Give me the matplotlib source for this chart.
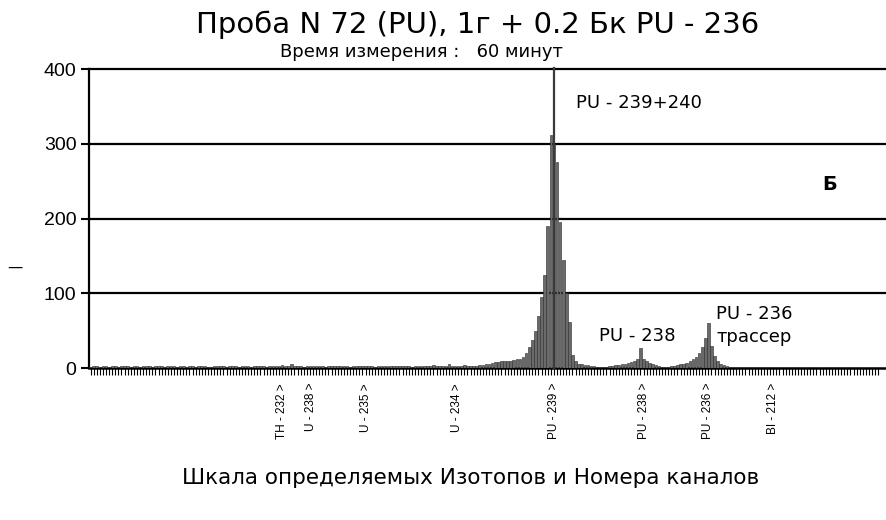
import matplotlib
matplotlib.use("Agg")
import matplotlib.pyplot as plt
import numpy as np

plt.rcParams['font.family'] = ['DejaVu Sans']

# ---- data: counts per channel (256 channels)
counts = [
    2, 3, 3, 2, 3, 3, 2, 3, 3, 2, 3, 3, 3, 2, 3, 3,
    2, 3, 3, 3, 2, 3, 3, 3, 2, 3, 3, 3, 2, 3, 3, 2,
    3, 3, 2, 3, 3, 3, 2, 2, 3, 3, 3, 3, 2, 3, 3, 3,
    2, 3, 3, 3, 2, 3, 3, 3, 3, 2, 3, 3, 3, 3, 4, 3,
    3, 5, 3, 3, 3, 2, 3, 3, 3, 3, 3, 3, 2, 3, 3, 3,
    3, 3, 3, 3, 2, 3, 3, 3, 3, 3, 3, 3, 2, 3, 3, 3,
    3, 3, 3, 3, 3, 3, 3, 3, 2, 3, 3, 3, 3, 3, 3, 4,
    3, 3, 3, 3, 5, 3, 3, 3, 3, 4, 3, 3, 3, 3, 4, 4,
    5, 6, 7, 8, 8, 9, 9, 10, 10, 11, 12, 12, 15, 20, 28, 38,
    50, 70, 95, 125, 190, 312, 300, 275, 195, 145, 100, 62, 18, 10, 6, 5,
    4, 4, 3, 3, 2, 2, 2, 2, 3, 3, 4, 4, 5, 6, 7, 8,
    10, 12, 27, 12, 9, 7, 5, 4, 3, 2, 2, 2, 3, 3, 4, 5,
    6, 7, 9, 12, 15, 20, 28, 40, 60, 30, 16, 10, 6, 4, 3, 2,
    2, 1, 1, 1, 1, 1, 1, 1, 1, 1, 1, 1, 1, 1, 1, 1,
    1, 1, 0, 1, 1, 1, 1, 0, 1, 1, 1, 1, 1, 0, 1, 1,
    1, 1, 1, 1, 0, 1, 1, 1, 1, 1, 1, 0, 1, 1, 1, 1,
]

# isotope markers on the channel scale
iso_labels = ["TH - 232 >", "U - 238 >", "U - 235 >", "U - 234 >",
              "PU - 239 >", "PU - 238 >", "PU - 236 >", "BI - 212 >"]
iso_channels = [62, 71.5, 89, 118.5, 150, 179, 200, 221]

cursor_channel = 150
y_ticks = [0, 100, 200, 300, 400]

channels = np.arange(len(counts))

fig = plt.figure(figsize=(8.86, 5.2), dpi=100)
ax = fig.add_axes([0.1005, 0.2923, 0.8995, 0.575])

ax.bar(channels, counts, width=0.85, color="#6a6a6a", edgecolor="#2a2a2a", linewidth=0.4, zorder=3)

# cursor line through the main peak, up to the top grid line
ax.plot([cursor_channel, cursor_channel], [0, 402], color="#3a3a3a", lw=1.6, clip_on=False, zorder=4)

ax.set_xlim(-0.5, 257.5)
ax.set_ylim(0, 400)
ax.set_yticks(y_ticks)
ax.set_yticklabels([str(v) for v in y_ticks], fontsize=14, family=["Liberation Sans"])
for v in y_ticks[1:]:
    ax.axhline(v, color="black", lw=1.6, zorder=1, clip_on=False)
ax.tick_params(axis="y", length=6, width=1.5, pad=3)

ax.set_xticks([])
ax.set_xticks(channels, minor=True)
ax.tick_params(axis="x", which="minor", length=5, width=0.8, direction="out")

for side in ["top", "right"]:
    ax.spines[side].set_visible(False)
ax.spines["left"].set_linewidth(1.6)
ax.spines["bottom"].set_linewidth(1.8)

# isotope scale labels under the axis
for lab, ch in zip(iso_labels, iso_channels):
    ax.text(ch, -0.05, lab, transform=ax.get_xaxis_transform(), rotation=90,
            ha="center", va="top", fontsize=8.5, family=["Liberation Sans"])

# peak annotations
ax.text(0.611, 0.87, "PU - 239+240", transform=ax.transAxes, fontsize=13)
ax.text(0.64, 0.09, "PU - 238", transform=ax.transAxes, fontsize=13)
ax.text(0.787, 0.165, "PU - 236", transform=ax.transAxes, fontsize=13)
ax.text(0.787, 0.088, "трассер", transform=ax.transAxes, fontsize=13)
ax.text(0.92, 0.595, "Б", transform=ax.transAxes, fontsize=14, fontweight="bold")

fig.text(0.539, 0.952, "Проба N 72 (PU), 1г + 0.2 Бк PU - 236", ha="center", va="center",
         fontsize=21)
fig.text(0.476, 0.9, "Время измерения :   60 минут", ha="center", va="center", fontsize=13)
fig.text(0.531, 0.08, "Шкала определяемых Изотопов и Номера каналов", ha="center", va="center",
         fontsize=15.5)
fig.text(0.017, 0.486, "—", ha="center", va="center", fontsize=11)

fig.savefig("out.png", dpi=100)
